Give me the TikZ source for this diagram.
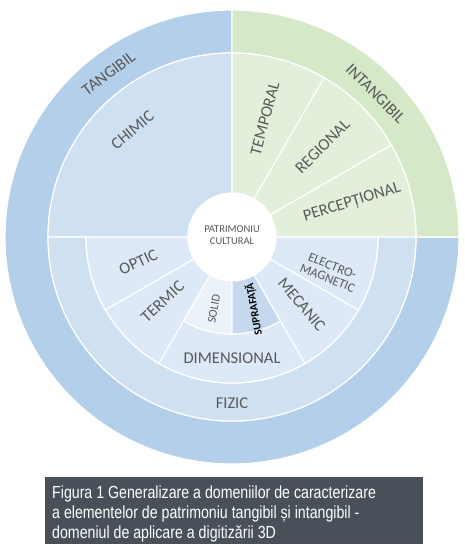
\documentclass[tikz,border=0pt]{standalone}
\usepackage{fontspec}
\setmainfont{Carlito}
\newfontfamily\capfont[FakeStretch=0.81]{Liberation Sans}
\definecolor{tang}{HTML}{B4CFE9}
\definecolor{intang}{HTML}{D5E8C7}
\definecolor{midblue}{HTML}{CFE0F1}
\definecolor{lightblue}{HTML}{DDE9F6}
\definecolor{paleblue}{HTML}{EBF2FA}
\definecolor{darkblue}{HTML}{C5D8EE}
\definecolor{lightgreen}{HTML}{E2EFDA}
\definecolor{labelgray}{HTML}{595959}
\definecolor{capbg}{HTML}{485159}
\newcommand\ringsector[5]{%
  \path[seg,fill=#1] (#2:#4pt) arc[start angle=#2,end angle=#3,radius=#4pt]
    -- (#3:#5pt) arc[start angle=#3,end angle=#2,radius=#5pt] -- cycle;}
\begin{document}
\begin{tikzpicture}[x=1pt,y=1pt,
  seg/.style={draw=white,line width=1.2pt},
  lbl/.style={text=labelgray,font=\fontsize{16.5}{17}\selectfont,inner sep=0pt},
  smalllbl/.style={text=labelgray,font=\fontsize{13}{13}\selectfont,inner sep=0pt,align=center},
  captext/.style={text=white,font=\capfont\fontsize{17.5}{20}\selectfont,inner sep=0pt,align=left}]
\useasboundingbox (-232,-312) rectangle (232,237);
% outer ring
\ringsector{tang}{90}{360}{227}{184}
\ringsector{intang}{0}{90}{227}{184}
% second level
\ringsector{midblue}{90}{180}{184}{44}
\ringsector{lightgreen}{60}{90}{184}{44}
\ringsector{lightgreen}{30}{60}{184}{44}
\ringsector{lightgreen}{0}{30}{184}{44}
\ringsector{midblue}{180}{360}{184}{146}
% third level
\ringsector{lightblue}{180}{210}{146}{44}
\ringsector{lightblue}{210}{240}{146}{44}
\ringsector{lightblue}{240}{300}{146}{97}
\ringsector{lightblue}{300}{330}{146}{44}
\ringsector{lightblue}{330}{360}{146}{44}
% fourth level
\ringsector{paleblue}{240}{270}{97}{44}
\ringsector{darkblue}{270}{300}{97}{44}
% hole
\fill[white] (0,0) circle[radius=44pt];
% labels
\node[lbl,rotate=37] (tangibil) at (127:205pt) {TANGIBIL};
\node[lbl,rotate=-45] (intangibil) at (45:203pt) {INTANGIBIL};
\node[lbl,rotate=40] (chimic) at (133:146pt) {CHIMIC};
\node[lbl,rotate=75] (temporal) at (74.5:123pt) {TEMPORAL};
\node[lbl,rotate=45] (regional) at (45:128pt) {REGIONAL};
\node[lbl,rotate=17] (perceptional) at (16:125pt) {PERCEPȚIONAL};
\node[text=labelgray,font=\fontsize{10.5}{12.5}\selectfont,align=center,inner sep=0pt] (root) at (0,2) {PATRIMONIU\\CULTURAL};
\node[lbl,rotate=25] (optic) at (195:97pt) {OPTIC};
\node[lbl,rotate=43] (termic) at (223:95pt) {TERMIC};
\node[text=labelgray,font=\fontsize{12}{12}\selectfont,inner sep=0pt,rotate=80] (solid) at (-18,-72) {SOLID};
\node[text=black,font=\bfseries\fontsize{11}{12}\selectfont,inner sep=0pt,rotate=100] (suprafata) at (22,-72) {SUPRAFAȚĂ};
\node[lbl,rotate=-50] (mecanic) at (316:97pt) {MECANIC};
\node[smalllbl,rotate=-22] (electro) at (98,-35) {ELECTRO-\\MAGNETIC};
\node[lbl] (dimensional) at (0,-121) {DIMENSIONAL};
\node[lbl] (fizic) at (0,-166) {FIZIC};
% caption
\fill[capbg] (-187,-240) rectangle (191,-307);
\node[captext,anchor=base west] (caption) at (-180,-301) {Figura 1 Generalizare a domeniilor de caracterizare\\a elementelor de patrimoniu tangibil și intangibil -\\domeniul de aplicare a digitizării 3D};
\end{tikzpicture}
\end{document}
